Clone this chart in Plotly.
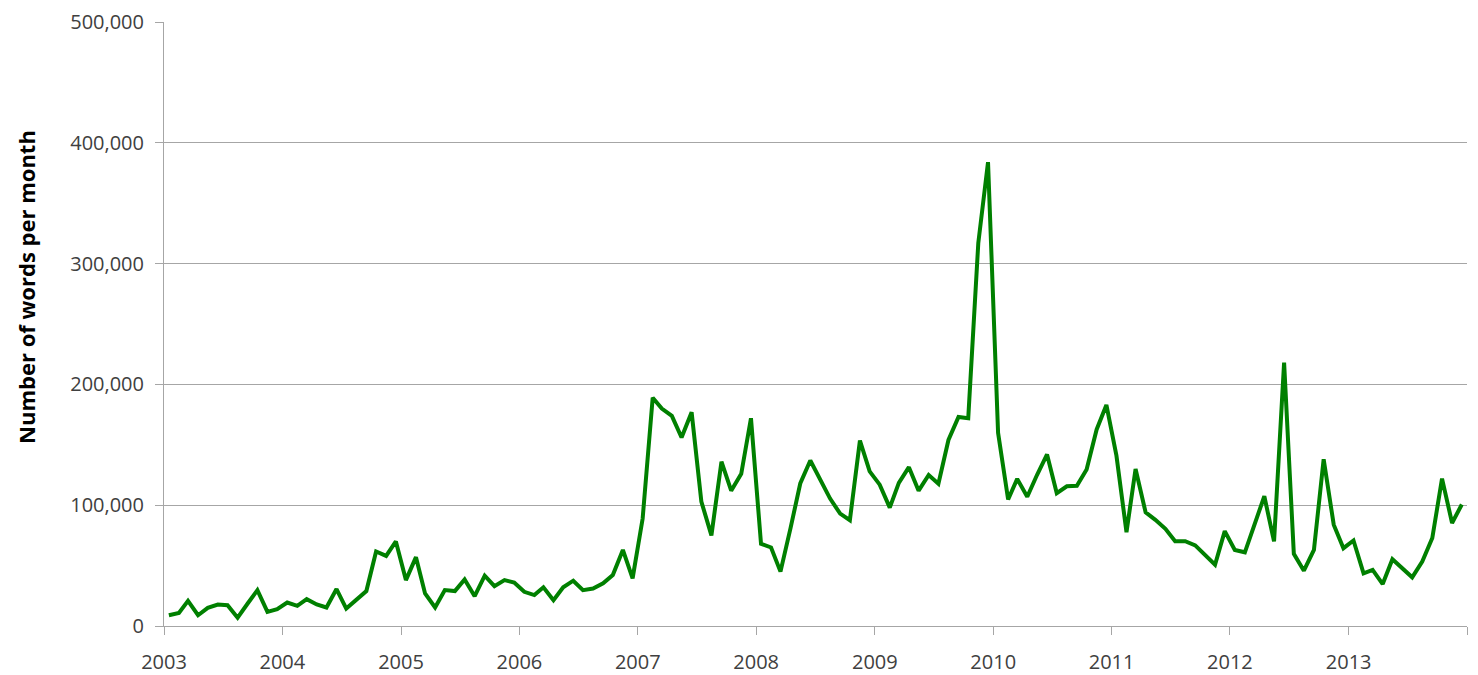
import pandas as pd
import plotly.graph_objects as go

# Monthly word counts, Jan 2003 .. Dec 2013
words_per_month = [
    8900, 10800, 20800, 8900, 15000, 17800, 17200, 6900, 18600, 29700, 11700, 13900,   # 2003
    19400, 16700, 22200, 17800, 15300, 30600, 14400, 21400, 28900, 61700, 58000, 70000, # 2004
    38000, 57000, 27000, 15300, 29700, 28900, 38600, 24700, 41700, 33000, 38000, 36000, # 2005
    28300, 25600, 32000, 21400, 32000, 37500, 29700, 31000, 35300, 42200, 63000, 39400, # 2006
    89000, 189000, 180000, 174000, 156000, 177000, 103000, 75000, 136000, 112000, 126000, 172000, # 2007
    68000, 65000, 45000, 81000, 118000, 137000, 121000, 105500, 93000, 87600, 153500, 128000, # 2008
    117000, 98000, 118500, 131500, 112000, 125000, 117700, 154000, 173000, 172000, 317000, 384000, # 2009
    160000, 104700, 121800, 107000, 125000, 142000, 110000, 115700, 116000, 129600, 162700, 183000, # 2010
    141000, 77700, 130000, 94000, 87900, 80400, 70200, 70200, 66700, 58400, 50700, 78500, # 2011
    63000, 61000, 83200, 107400, 70000, 218000, 59700, 45800, 63000, 138000, 83900, 64400, # 2012
    70800, 43600, 46400, 34700, 55300, 47800, 40300, 53300, 72800, 122000, 85300, 100600, # 2013
]

year_ticks = ["2003", "2004", "2005", "2006", "2007", "2008", "2009", "2010", "2011", "2012", "2013", "2014"]
year_labels = ["2003", "2004", "2005", "2006", "2007", "2008", "2009", "2010", "2011", "2012", "2013", ""]
y_ticks = [0, 100000, 200000, 300000, 400000, 500000]
y_title = "Number of words per month"

months = pd.date_range("2003-01-01", periods=len(words_per_month), freq="MS") + pd.Timedelta(days=15)

fig = go.Figure()
fig.add_trace(go.Scatter(
    x=months, y=words_per_month, mode="lines",
    line=dict(color="#008000", width=4),
    showlegend=False, hoverinfo="skip",
))

tick_font = dict(family="Open Sans, sans-serif", size=20, color="#404040")

fig.update_layout(
    width=1470, height=675,
    margin=dict(l=156, r=11, t=14, b=57),
    paper_bgcolor="white", plot_bgcolor="white",
    xaxis=dict(
        type="date",
        range=["2003-01-01", "2014-01-01"],
        tickmode="array",
        tickvals=[f"{y}-01-01" for y in year_ticks],
        ticktext=year_labels,
        showgrid=False,
        showline=True, linecolor="#a6a6a6", linewidth=1,
        ticks="outside", ticklen=8, tickcolor="#a6a6a6",
        tickfont=tick_font,
        ticklabelstandoff=10,
        zeroline=False,
        automargin=False,
    ),
    yaxis=dict(
        range=[0, 500000],
        tickmode="array",
        tickvals=y_ticks,
        ticktext=[f"{v:,}" for v in y_ticks],
        showgrid=True, gridcolor="#a6a6a6", gridwidth=1,
        showline=True, linecolor="#a6a6a6", linewidth=1,
        ticks="outside", ticklen=8, tickcolor="#a6a6a6",
        tickfont=tick_font,
        ticklabelstandoff=7,
        zeroline=False,
        automargin=False,
    ),
    annotations=[dict(
        text=f"<b>{y_title}</b>",
        textangle=-90,
        xref="paper", yref="paper",
        x=-0.1064, y=0.562,
        xanchor="center", yanchor="middle",
        showarrow=False, borderpad=0,
        font=dict(family="Open Sans, sans-serif", size=22, color="#000000"),
    )],
)

fig.write_html("out.html")
